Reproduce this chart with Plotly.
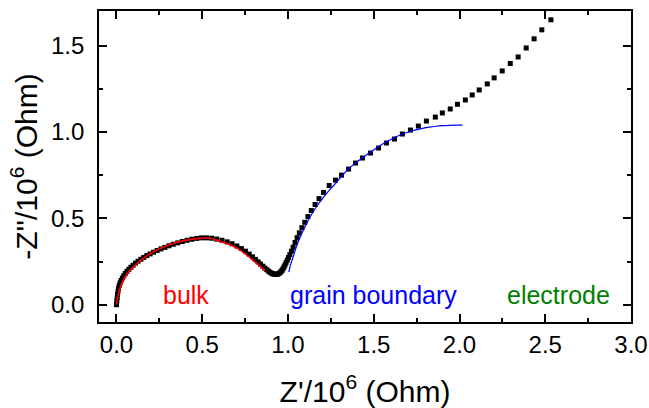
import plotly.graph_objects as go

# Measured data (black squares), Z'/1e6 and -Z''/1e6
data_x = [0.000, 0.002, 0.004, 0.006, 0.009, 0.012, 0.016, 0.021, 0.027, 0.034,
          0.042, 0.051, 0.061, 0.072, 0.084, 0.097, 0.111, 0.126, 0.142, 0.159,
          0.177, 0.196, 0.216, 0.237, 0.259, 0.282, 0.306, 0.331, 0.357, 0.384,
          0.412, 0.440, 0.468, 0.496, 0.525, 0.555, 0.585, 0.615, 0.645, 0.674,
          0.702, 0.728, 0.752, 0.774, 0.793, 0.810, 0.826, 0.840, 0.853, 0.865,
          0.876, 0.886, 0.895, 0.903, 0.911, 0.918, 0.925, 0.932, 0.939, 0.946,
          0.953, 0.959, 0.965, 0.971, 0.977, 0.983, 0.989, 0.996, 1.003, 1.011,
          1.020, 1.030, 1.041, 1.053, 1.066, 1.081, 1.098, 1.116, 1.136, 1.158,
          1.181, 1.207, 1.240, 1.277, 1.312, 1.353, 1.394, 1.434, 1.481, 1.528,
          1.574, 1.621, 1.667, 1.714, 1.760, 1.807, 1.859, 1.900, 1.946, 1.988,
          2.034, 2.074, 2.115, 2.162, 2.202, 2.249, 2.296, 2.342, 2.389, 2.435,
          2.480, 2.533]
data_y = [0.000, 0.022, 0.042, 0.060, 0.078, 0.095, 0.111, 0.126, 0.140, 0.154,
          0.167, 0.180, 0.193, 0.205, 0.217, 0.229, 0.241, 0.252, 0.263, 0.274,
          0.284, 0.294, 0.304, 0.314, 0.323, 0.332, 0.341, 0.350, 0.358, 0.366,
          0.373, 0.379, 0.384, 0.387, 0.387, 0.385, 0.380, 0.373, 0.364, 0.353,
          0.340, 0.325, 0.310, 0.293, 0.277, 0.262, 0.248, 0.235, 0.223, 0.212,
          0.203, 0.195, 0.188, 0.183, 0.179, 0.177, 0.176, 0.176, 0.177, 0.180,
          0.185, 0.191, 0.199, 0.208, 0.219, 0.231, 0.244, 0.258, 0.273, 0.290,
          0.310, 0.333, 0.360, 0.388, 0.416, 0.446, 0.477, 0.510, 0.545, 0.580,
          0.614, 0.650, 0.690, 0.721, 0.750, 0.785, 0.820, 0.849, 0.878, 0.907,
          0.936, 0.959, 0.988, 1.011, 1.034, 1.063, 1.086, 1.110, 1.133, 1.160,
          1.185, 1.214, 1.243, 1.278, 1.313, 1.353, 1.396, 1.434, 1.486, 1.539,
          1.591, 1.649]

# Bulk fit (red line)
bulk_x = [0.000, 0.006, 0.012, 0.020, 0.032, 0.049, 0.070, 0.097, 0.125, 0.155,
          0.190, 0.233, 0.280, 0.330, 0.380, 0.427, 0.475, 0.524, 0.565, 0.602,
          0.640, 0.679, 0.710, 0.737, 0.766, 0.796, 0.825, 0.854, 0.866]
bulk_y = [0.000, 0.035, 0.062, 0.093, 0.127, 0.160, 0.190, 0.218, 0.243, 0.267,
          0.291, 0.315, 0.336, 0.354, 0.368, 0.377, 0.384, 0.386, 0.380, 0.367,
          0.355, 0.340, 0.323, 0.305, 0.282, 0.257, 0.233, 0.209, 0.199]

# Grain boundary fit (blue line)
gb_x = [1.005, 1.015, 1.029, 1.043, 1.058, 1.077, 1.097, 1.120, 1.145, 1.173,
        1.203, 1.240, 1.280, 1.320, 1.360, 1.398, 1.437, 1.475, 1.514, 1.552,
        1.591, 1.630, 1.669, 1.708, 1.746, 1.785, 1.824, 1.863, 1.902, 1.941,
        1.980, 2.018]
gb_y = [0.189, 0.232, 0.273, 0.318, 0.360, 0.405, 0.447, 0.492, 0.535, 0.577,
        0.617, 0.662, 0.705, 0.752, 0.792, 0.824, 0.852, 0.879, 0.905, 0.930,
        0.952, 0.972, 0.988, 1.001, 1.012, 1.021, 1.028, 1.033, 1.036, 1.038,
        1.039, 1.039]

labels = ["bulk", "grain boundary", "electrode"]
label_x = [0.408, 1.500, 2.579]
label_y = [0.056, 0.056, 0.056]
label_colors = ["#ff0000", "#0000ff", "#008000"]

FONT = "Liberation Sans"

fig = go.Figure()
fig.add_trace(go.Scatter(x=data_x, y=data_y, mode="markers",
                         marker=dict(symbol="square", size=5, color="black"),
                         showlegend=False))
fig.add_trace(go.Scatter(x=bulk_x, y=bulk_y, mode="lines",
                         line=dict(color="#ff0000", width=1.6, shape="spline"),
                         showlegend=False))
fig.add_trace(go.Scatter(x=gb_x, y=gb_y, mode="lines",
                         line=dict(color="#0000ff", width=1.2, shape="spline"),
                         showlegend=False))

for t, xx, yy, c in zip(labels, label_x, label_y, label_colors):
    fig.add_annotation(x=xx, y=yy, text=t, showarrow=False,
                       font=dict(color=c, size=25, family=FONT),
                       xanchor="center", yanchor="middle")

axis_common = dict(
    showline=True, linecolor="black", linewidth=1.6, mirror="ticks",
    ticks="inside", ticklen=8, tickwidth=1.6, tickcolor="black",
    showgrid=False, zeroline=False, tickformat=".1f", dtick=0.5,
    automargin=False,
    tickfont=dict(size=24, color="black", family=FONT),
    minor=dict(ticks="inside", ticklen=4, tickwidth=1.6, tickcolor="black", dtick=0.25),
)

fig.update_xaxes(range=[-0.102, 3.0], tick0=0,
                 title=dict(text="Z'/10<sup>6</sup> (Ohm)", standoff=26,
                            font=dict(size=30, color="black", family=FONT)),
                 **axis_common)
fig.update_yaxes(range=[-0.1, 1.7], tick0=0, ticklabelstandoff=8,
                 title=dict(text="-Z''/10<sup>6</sup> (Ohm)", standoff=5,
                            font=dict(size=30, color="black", family=FONT)),
                 **axis_common)

fig.update_layout(width=649, height=408,
                  margin=dict(l=99, r=18, t=11, b=86),
                  plot_bgcolor="white", paper_bgcolor="white")

fig.write_html("out.html",
               config={"displayModeBar": False},
               post_script="document.body.style.margin='0px';"
                           "document.body.style.overflow='hidden';")
